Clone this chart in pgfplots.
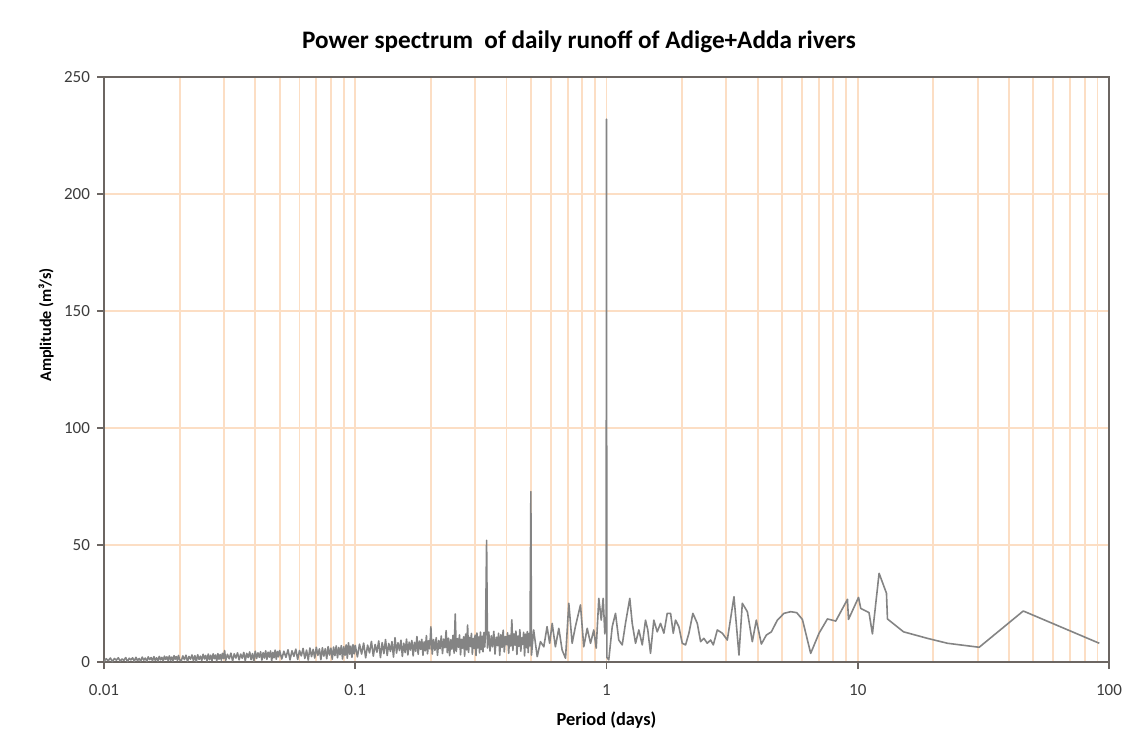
\documentclass[border=0pt]{standalone}
\usepackage{fontspec}
\setmainfont{Carlito}
\usepackage{pgfplots}
\pgfplotsset{compat=1.18}
\definecolor{gridor}{RGB}{252,222,196}
\definecolor{axgray}{RGB}{108,102,98}
\definecolor{linegray}{RGB}{132,132,132}
\definecolor{ticktext}{RGB}{60,60,60}

\begin{document}
\begin{tikzpicture}
\begin{axis}[
  at={(52pt,33.5pt)}, anchor=south west,
  scale only axis, width=502.5pt, height=292.5pt,
  xmode=log, xmin=0.01, xmax=100, ymin=0, ymax=250,
  xtick={0.01,0.1,1,10,100}, xticklabels={0.01,0.1,1,10,100},
  minor xtick={0.02,0.03,0.04,0.05,0.06,0.07,0.08,0.09,0.2,0.3,0.4,0.5,0.6,0.7,0.8,0.9,2,3,4,5,6,7,8,9,20,30,40,50,60,70,80,90},
  ytick={0,50,100,150,200,250},
  xmajorgrids, xminorgrids, ymajorgrids,
  major grid style={gridor, line width=0.95pt},
  minor grid style={gridor, line width=0.95pt},
  axis line style={axgray, line width=1pt},
  tick pos=left, tick align=outside,
  major tick length=3.5pt, minor tick length=0pt,
  tick style={axgray, line width=0.8pt},
  /pgf/number format/assume math mode=true,
  ticklabel style={font=\fontsize{8.5}{10}\selectfont, text=ticktext},
  xticklabel style={yshift=-4pt},
  xlabel={Period (days)},
  ylabel={Amplitude (m³/s)},
  every axis x label/.style={at={(axis description cs:0.5,0)}, anchor=center, yshift=-29pt, font=\bfseries\fontsize{9.2}{11}\selectfont},
  every axis y label/.style={at={(axis description cs:-0.0577,0.576)}, rotate=90, anchor=center, font=\bfseries\fontsize{8.1}{10}\selectfont},
]
\addplot[linegray, line width=0.8pt, line join=round] coordinates {
(0.0100,0.3) (0.0102,1.4) (0.0104,0.6) (0.0106,1.7) (0.0108,0.2) (0.0110,1.5) (0.0112,0.8) (0.0114,1.8)
(0.0116,0.4) (0.0118,1.3) (0.0120,0.7) (0.0122,1.9) (0.0124,0.2) (0.0126,1.6) (0.0128,0.9) (0.0130,1.8)
(0.0132,0.3) (0.0134,2.0) (0.0136,0.6) (0.0138,1.5) (0.0140,0.4) (0.0142,2.1) (0.0144,0.8) (0.0146,1.7)
(0.0148,0.3) (0.0150,2.2) (0.0152,1.0) (0.0154,1.9) (0.0156,0.5) (0.0158,2.3) (0.0160,0.7) (0.0162,1.8)
(0.0164,0.4) (0.0166,2.4) (0.0168,0.9) (0.0170,2.0) (0.0172,0.5) (0.0174,2.5) (0.0176,1.1) (0.0178,2.2)
(0.0180,0.6) (0.0182,2.6) (0.0184,0.8) (0.0186,2.1) (0.0188,0.4) (0.0190,2.7) (0.0192,1.2) (0.0194,2.3)
(0.0196,0.7) (0.0198,2.8) (0.0200,1.0)
(0.0203,0.5) (0.0206,2.6) (0.0209,1.0) (0.0212,2.9) (0.0215,0.3) (0.0218,2.4) (0.0221,1.2) (0.0224,3.0)
(0.0227,0.6) (0.0230,2.7) (0.0233,0.2) (0.0236,3.1) (0.0239,1.1) (0.0242,2.5) (0.0245,0.7) (0.0248,3.3)
(0.0251,1.3) (0.0254,2.8) (0.0257,0.4) (0.0260,3.4) (0.0263,1.0) (0.0266,2.9) (0.0269,0.6) (0.0272,3.5)
(0.0275,1.4) (0.0278,3.0) (0.0281,0.5) (0.0284,3.6) (0.0287,1.2) (0.0290,3.2) (0.0293,0.8) (0.0296,3.7)
(0.0299,1.5) (0.0302,4.9)
(0.0305,0.7) (0.0310,3.3) (0.0315,1.4) (0.0320,3.8) (0.0325,0.5) (0.0330,3.5) (0.0335,1.7) (0.0340,3.9)
(0.0345,0.9) (0.0350,3.4) (0.0355,1.6) (0.0360,4.1) (0.0365,0.6) (0.0370,3.7) (0.0375,1.9) (0.0380,4.3)
(0.0385,1.0) (0.0390,3.6) (0.0395,0.4) (0.0400,4.6) (0.0405,1.5) (0.0410,3.9) (0.0415,2.0) (0.0420,4.4)
(0.0425,0.8) (0.0430,4.0) (0.0435,1.7) (0.0440,4.8) (0.0445,1.1) (0.0450,4.2) (0.0455,2.1) (0.0460,4.7)
(0.0465,0.6) (0.0470,4.1) (0.0475,1.8) (0.0480,5.1) (0.0485,1.2) (0.0490,4.5) (0.0495,2.2) (0.0500,4.9)
(0.051,1.3) (0.052,4.6) (0.053,2.0) (0.054,5.2) (0.055,0.9) (0.056,4.8) (0.057,2.4) (0.058,5.5)
(0.059,1.1) (0.060,4.9) (0.061,2.6) (0.062,5.8) (0.063,1.5) (0.064,5.1) (0.065,0.8) (0.066,6.0)
(0.067,2.3) (0.068,5.4) (0.069,1.7) (0.070,6.3) (0.071,2.8) (0.072,5.6) (0.073,1.0) (0.074,6.1)
(0.075,2.5) (0.076,5.7) (0.077,1.4) (0.078,6.6) (0.079,3.0) (0.080,5.9) (0.081,1.2) (0.082,6.4)
(0.083,2.7) (0.084,6.9) (0.085,1.8) (0.086,6.2) (0.087,3.1) (0.088,7.0) (0.089,1.3) (0.090,6.5)
(0.091,2.9) (0.092,7.3) (0.093,1.6) (0.094,8.2) (0.095,3.3) (0.096,6.8) (0.097,2.0) (0.098,7.4)
(0.099,3.5) (0.100,7.1)
(0.102,2.2) (0.104,7.6) (0.106,3.4) (0.108,8.1) (0.110,1.8) (0.112,7.2) (0.114,3.9) (0.116,8.8)
(0.118,2.5) (0.120,7.5) (0.122,4.2) (0.124,9.0) (0.126,1.9) (0.128,8.3) (0.130,3.6) (0.132,9.6)
(0.134,2.8) (0.136,7.9) (0.138,4.5) (0.140,8.7) (0.142,2.1) (0.144,10.4) (0.146,3.8) (0.148,8.2)
(0.150,4.9) (0.152,9.3) (0.154,2.4) (0.156,8.0) (0.158,4.0) (0.160,9.8) (0.162,3.0) (0.164,8.5)
(0.166,5.1) (0.168,9.2) (0.170,2.6) (0.172,8.4) (0.174,4.6) (0.176,10.9) (0.178,3.3) (0.180,8.9)
(0.182,5.4) (0.184,9.7) (0.186,2.9) (0.188,8.6) (0.190,4.8) (0.192,11.3) (0.194,3.5) (0.196,9.1)
(0.198,5.6) (0.200,15.0)
(0.2025,3.4) (0.2050,9.6) (0.2075,5.0) (0.2100,10.4) (0.2125,2.9) (0.2150,9.2) (0.2175,5.7) (0.2200,11.1)
(0.2225,3.6) (0.2250,9.8) (0.2275,6.1) (0.2300,13.4) (0.2325,4.0) (0.2350,10.2) (0.2375,2.7) (0.2400,9.5)
(0.2425,5.5) (0.2450,11.4) (0.2475,3.8) (0.2500,20.5) (0.2525,4.5) (0.2550,10.0) (0.2575,6.3) (0.2600,11.6)
(0.2625,3.1) (0.2650,9.7) (0.2675,5.9) (0.2700,10.8) (0.2725,2.5) (0.2750,11.9) (0.2775,5.2) (0.2800,15.8)
(0.2825,4.1) (0.2850,10.5) (0.2875,6.6) (0.2900,12.2) (0.2925,3.3) (0.2950,10.1) (0.2975,5.8) (0.3000,11.5)
(0.3025,2.8) (0.3050,12.4) (0.3075,6.0) (0.3100,10.7) (0.3125,3.9) (0.3150,12.8) (0.3175,5.3) (0.3200,11.0)
(0.3225,4.4) (0.3250,12.6) (0.3275,6.4) (0.3300,11.8)
(0.3333,52.0) (0.3360,6.0)
(0.340,12.8) (0.344,4.7) (0.348,11.2) (0.352,6.5) (0.356,13.1) (0.360,3.4) (0.364,10.6) (0.368,7.0)
(0.372,12.3) (0.376,2.9) (0.380,11.7) (0.384,6.2) (0.388,13.6) (0.392,4.3) (0.396,10.9) (0.400,7.4)
(0.404,12.5) (0.408,3.7) (0.412,11.4) (0.416,6.8) (0.420,18.0) (0.424,4.9) (0.428,12.0) (0.432,7.2)
(0.436,13.2) (0.440,3.2) (0.444,11.1) (0.448,6.7) (0.452,13.8) (0.456,4.6) (0.460,10.4) (0.464,7.6)
(0.468,12.7) (0.472,2.6) (0.476,11.9) (0.480,6.1) (0.484,13.0) (0.488,4.0) (0.492,12.2) (0.496,6.9)
(0.500,72.8) (0.503,3.0)
(0.513,13.7) (0.530,2.3) (0.546,8.7) (0.563,6.5) (0.580,15.1) (0.594,8.0) (0.608,16.5) (0.626,6.5)
(0.646,14.4) (0.666,5.1) (0.687,1.6) (0.708,25.1) (0.730,8.0) (0.752,15.1) (0.788,24.4) (0.812,6.5)
(0.838,14.4) (0.864,8.0) (0.890,13.7) (0.910,5.9) (0.932,27.2) (0.953,17.9) (0.970,27.2) (0.985,12.0)
(0.997,20.0) (1.000,232.0) (1.003,2.0)
(1.021,0.9) (1.054,15.1) (1.086,20.8) (1.119,9.4) (1.155,7.3) (1.190,16.5) (1.238,27.2) (1.266,16.5)
(1.305,8.0) (1.345,13.7) (1.388,7.3) (1.430,17.9) (1.460,13.7) (1.497,3.7) (1.543,17.9) (1.592,12.9)
(1.641,16.5) (1.692,12.3) (1.745,20.8) (1.799,20.8) (1.844,12.3) (1.883,17.9) (1.941,15.1) (2.003,8.0)
(2.064,7.3) (2.128,12.3) (2.207,20.8) (2.298,16.5) (2.369,8.7) (2.441,10.1) (2.519,8.0) (2.597,9.4)
(2.661,7.3) (2.761,13.7) (2.891,12.3) (3.026,9.4) (3.216,27.9) (3.367,3.0) (3.472,25.1) (3.636,21.5)
(3.806,8.7) (3.948,17.9) (4.134,7.7) (4.327,11.5) (4.531,12.9) (4.787,17.9) (5.087,20.8) (5.409,21.5)
(5.715,21.1) (6.022,18.2) (6.497,3.7) (7.014,12.3) (7.574,18.4) (8.175,17.5) (9.101,26.8) (9.185,18.2)
(10.07,27.6) (10.28,22.9) (11.09,21.1) (11.44,12.0) (12.16,37.9) (13.01,29.4) (13.13,18.4) (15.21,12.9)
(18.95,10.1) (22.77,8.0) (30.43,6.3) (45.58,21.8) (91.5,8.0)
};
\end{axis}
\node[font=\bfseries\fontsize{12.6}{14}\selectfont] at (289.5pt,343.5pt) {Power spectrum~ of daily runoff of Adige+Adda rivers};
\pgfresetboundingbox
\path[use as bounding box] (0,0) rectangle (564pt,364.5pt);
\end{tikzpicture}
\end{document}
